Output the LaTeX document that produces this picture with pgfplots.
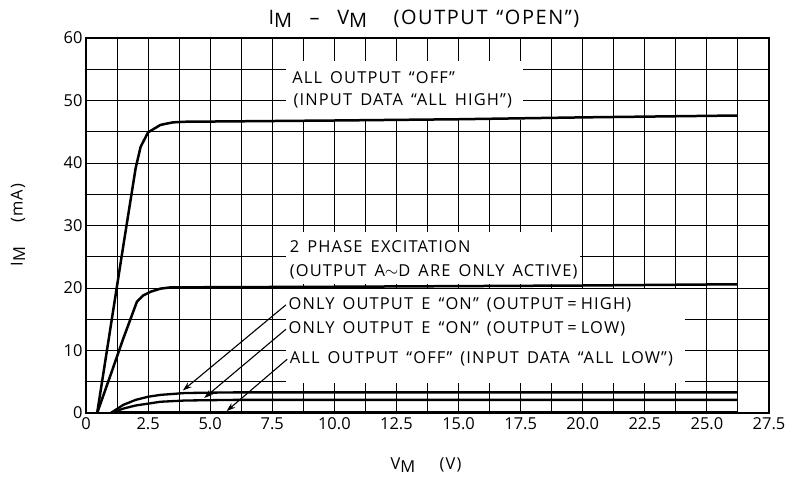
\documentclass[border=0pt]{standalone}
\usepackage{pgfplots}
\pgfplotsset{compat=1.18}
\usetikzlibrary{arrows.meta}
\usepackage{fontspec}
\setmainfont{Open Sans}
\newfontfamily\lblfont[LetterSpace=7,WordSpace=1.5]{Open Sans}
\newfontfamily\ttlfont[LetterSpace=8,WordSpace=1.3]{Open Sans}
\newcommand{\sub}[1]{\raisebox{-0.3ex}{#1}}
\newcommand{\eq}{\hspace*{4bp}=\hspace*{4bp}}

\begin{document}
\begin{tikzpicture}
\begin{axis}[
    scale only axis,
    width=683bp, height=375bp,
    xmin=0, xmax=27.5, ymin=0, ymax=60,
    xtick={0,2.5,...,27.5},
    xticklabels={0,2.5,5.0,7.5,10.0,12.5,15.0,17.5,20.0,22.5,25.0,27.5},
    ytick={0,10,...,60},
    minor x tick num=1, minor y tick num=1,
    grid=both,
    major grid style={black, line width=1bp},
    minor grid style={black, line width=1bp},
    major tick length=0pt, minor tick length=0pt,
    axis line style={line width=1.8bp},
    tick label style={font=\fontsize{16.5}{16.5}\selectfont},
    /pgf/number format/assume math mode=true,
    xticklabel style={yshift=-1bp},
    clip=false,
  ]
  % white boxes behind the labels
  \fill[white] (axis cs:8.05,46.9) rectangle (axis cs:17.6,56.3);
  \fill[white] (axis cs:8.05,20.7) rectangle (axis cs:19.9,29.0);
  \fill[white] (axis cs:8.05,4.8) rectangle (axis cs:24.1,19.8);

  % all output OFF, input data all high
  \addplot[black, line width=2.5bp, line join=round] coordinates {
    (0.45,0) (1.0,14) (1.5,26.7) (2.0,39.2) (2.2,42.6) (2.5,44.9) (3.0,46.1)
    (3.5,46.5) (4.0,46.6) (10,46.8) (15,47.0) (20,47.3) (26.25,47.6)};
  % 2 phase excitation
  \addplot[black, line width=2.5bp, line join=round] coordinates {
    (0.45,0) (1.0,6.2) (1.5,11.9) (2.05,17.8) (2.3,18.8) (2.6,19.4) (3.0,19.9)
    (3.4,20.1) (10,20.2) (20,20.4) (26.25,20.6)};
  % only output E on (output = high)
  \addplot[black, line width=2.3bp, line join=round] coordinates {
    (1.0,0) (1.5,1.3) (2.0,2.1) (2.5,2.6) (3.0,2.9) (4.0,3.2) (6,3.3) (26.25,3.3)};
  % only output E on (output = low)
  \addplot[black, line width=2.3bp, line join=round] coordinates {
    (1.0,0) (1.5,0.7) (2.0,1.2) (2.5,1.5) (3.0,1.8) (4.0,2.0) (6,2.1) (26.25,2.1)};
  % all output off, input data all low
  \addplot[black, line width=2.6bp] coordinates {(1.0,0.1) (26.25,0.1)};

  % arrows
  \draw[-{Stealth[length=9bp,width=6bp]}, line width=1.1bp] (axis cs:8.05,17.3) -- (axis cs:3.9,3.6);
  \draw[-{Stealth[length=9bp,width=6bp]}, line width=1.1bp] (axis cs:8.05,13.4) -- (axis cs:4.76,2.4);
  \draw[-{Stealth[length=9bp,width=6bp]}, line width=1.1bp] (axis cs:8.1,8.6) -- (axis cs:5.66,0.3);

  \begin{scope}[every node/.style={anchor=west, inner sep=0pt, font=\lblfont\fontsize{16.5}{16.5}\selectfont}]
    \node at (axis cs:8.3,53.7) {ALL OUTPUT “OFF”};
    \node at (axis cs:8.35,50.0) {(INPUT DATA “ALL HIGH”)};
    \node at (axis cs:8.2,26.6) {2 PHASE EXCITATION};
    \node at (axis cs:8.2,22.6) {(OUTPUT A$\sim$D ARE ONLY ACTIVE)};
    \node at (axis cs:8.15,17.3) {ONLY OUTPUT E “ON” (OUTPUT\eq HIGH)};
    \node at (axis cs:8.15,13.4) {ONLY OUTPUT E “ON” (OUTPUT\eq LOW)};
    \node at (axis cs:8.2,8.6) {ALL OUTPUT “OFF” (INPUT DATA “ALL LOW”)};
  \end{scope}
\end{axis}
\node[font=\ttlfont\fontsize{20}{20}\selectfont] at (338bp,394bp) {I\sub{M}\ \ –\ \ V\sub{M}\ \ \ (OUTPUT “OPEN”)};
\node[font=\lblfont\fontsize{16.5}{16.5}\selectfont, rotate=90] at (-68bp,188bp) {I\sub{M}\ \ \ (mA)};
\node[font=\lblfont\fontsize{16.5}{16.5}\selectfont] at (340bp,-52bp) {V\sub{M}\ \ \ (V)};
\pgfresetboundingbox
\path[use as bounding box] (-86bp,-67bp) rectangle (702bp,413bp);
\end{tikzpicture}
\end{document}
